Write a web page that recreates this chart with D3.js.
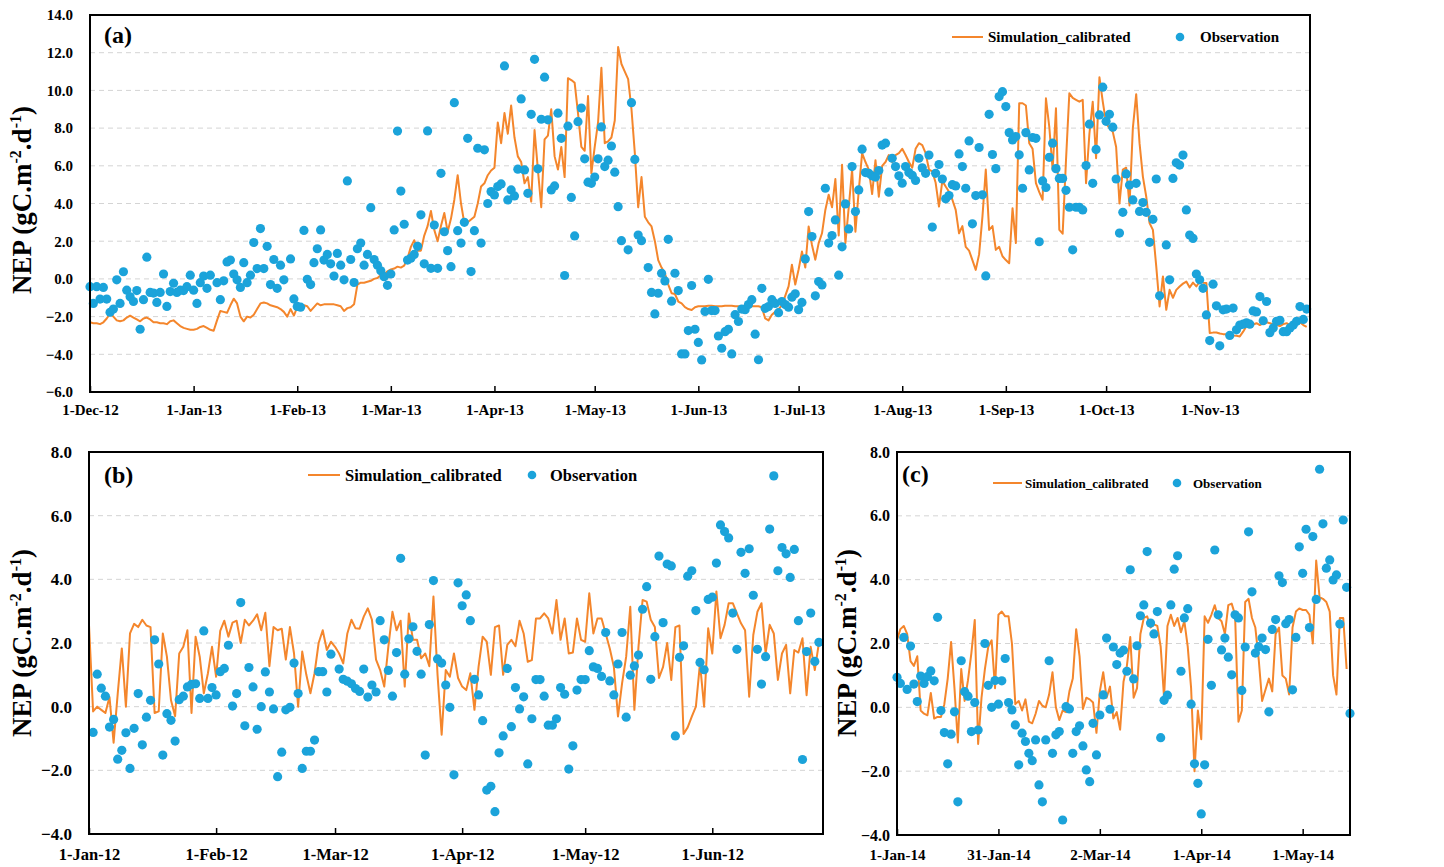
<!DOCTYPE html>
<html><head><meta charset="utf-8">
<script src="https://cdn.jsdelivr.net/npm/d3@7"></script>
<style>
body{margin:0;background:#fff}
text{font-family:"Liberation Serif","Times New Roman",serif;font-weight:bold;fill:#000}
</style>
</head><body>
<svg id="chart" width="1444" height="867"></svg>
<script>
// ---------- Panel (a): daily values from 1-Dec-2012 ----------
const simA = [
-2.3,-2.35,-2.35,-2.4,-2.3,-2.1,-1.85,-2.0,-2.2,-2.25,-2.2,-2.05,-1.95,-2.05,-2.15,-2.25,-2.1,-2.05,-2.15,-2.3,-2.3,-2.35,-2.35,-2.4,-2.25,-2.2,-2.35,-2.5,-2.6,-2.65,-2.7,
-2.7,-2.65,-2.55,-2.5,-2.6,-2.7,-2.75,-2.2,-1.7,-1.75,-1.8,-1.4,-1.05,-1.3,-2.0,-2.25,-2.0,-2.05,-1.9,-1.6,-1.3,-1.25,-1.3,-1.4,-1.45,-1.5,-1.6,-1.75,-2.0,-1.6,-1.95,
-1.5,-1.4,-1.4,-1.45,-1.7,-1.5,-1.3,-1.4,-1.35,-1.35,-1.35,-1.35,-1.4,-1.45,-1.7,-1.55,-1.5,-1.35,-0.3,-0.2,-0.2,-0.15,-0.1,0.0,0.05,0.2,0.25,0.4,
0.5,0.55,0.65,0.6,0.7,1.1,1.7,2.05,1.5,1.5,2.3,2.8,3.6,2.6,2.0,2.8,3.5,2.5,3.2,4.2,5.5,4.0,2.95,3.0,3.15,3.3,4.0,4.9,5.07,5.5,5.75,
5.9,8.3,7.2,8.8,7.7,9.2,7.5,6.5,6.2,5.07,5.4,4.1,7.9,5.8,3.8,7.4,7.6,9.0,6.5,5.8,7.0,5.4,10.65,10.55,10.4,8.8,7.0,6.8,9.7,5.6,
7.0,8.3,11.2,7.2,7.3,7.5,8.4,12.3,11.4,11.0,10.6,9.0,6.67,3.8,5.4,3.3,3.0,2.78,2.0,1.0,0.6,0.3,-0.3,-0.76,-0.8,-1.2,-1.3,-1.5,-1.6,-1.65,-1.5,
-1.45,-1.45,-1.45,-1.42,-1.42,-1.45,-1.45,-1.45,-1.42,-1.42,-1.42,-1.45,-1.45,-1.45,-1.42,-1.42,-1.45,-1.45,-1.45,-1.5,-2.1,-2.2,-1.9,-1.75,-1.6,-1.4,-0.9,-0.4,0.75,-0.3,
0.5,1.45,0.6,2.78,1.8,1.02,1.9,2.42,3.66,4.46,3.8,5.3,2.3,6.05,1.9,3.8,5.8,2.5,4.7,6.67,6.2,5.8,4.5,6.3,4.36,6.0,6.2,6.57,6.2,6.57,6.67,
6.9,6.57,6.2,5.9,6.9,7.2,7.1,6.67,5.8,5.7,5.1,3.84,5.2,4.9,4.62,4.2,3.66,2.42,2.8,1.7,1.5,1.0,0.48,1.3,3.3,5.8,2.6,2.8,1.54,1.7,1.2,
1.0,0.83,3.75,1.9,9.32,9.32,9.2,7.2,6.9,5.08,4.6,4.2,9.58,8.07,5.8,9.05,2.6,2.4,6.3,9.85,9.6,9.5,9.4,9.5,5.08,7.7,9.4,6.4,10.7,9.4,
8.26,8.0,7.8,7.0,4.0,5.8,5.9,3.9,8.0,9.8,7.2,5.43,4.37,2.96,2.6,0.66,-1.46,0.13,-1.64,-0.58,-1.0,-0.58,-0.4,-0.25,-0.14,-0.45,-0.2,-0.4,-0.14,-0.2,-0.22,
-2.87,-2.85,-2.84,-2.9,-2.93,-2.93,-2.95,-3.0,-3.02,-3.05,-2.8,-2.5,-2.45,-2.42,-2.35,-2.45,-2.35,-2.3,-2.35,-2.4,-2.45,-2.5,-2.4,-2.35,-2.45,-2.5,-2.35,-2.3,-2.45,-2.55
];
const obsA = [
-0.41,-1.3,-0.41,-1.07,-0.45,-1.07,-1.77,-1.6,-0.05,-1.3,0.38,-0.6,-0.95,-1.2,-0.62,-2.67,-1.1,1.15,-0.72,-0.75,-1.25,-0.72,0.26,-1.46,-0.67,-0.23,-0.72,-0.6,-0.62,-0.41,0.2,
-0.6,-1.3,-0.2,0.15,-0.5,0.2,null,-0.2,-1.1,-0.1,0.9,1.0,0.26,-0.05,-0.45,0.86,-0.2,0.2,1.93,0.55,2.67,0.55,1.73,-0.3,1.03,-0.5,0.73,-0.05,null,1.06,-1.06,
-1.46,-1.5,2.57,-0.02,-0.3,0.86,1.6,2.6,1.0,1.3,0.8,0.15,1.35,0.73,-0.05,5.2,1.03,-0.19,1.6,1.9,0.73,1.3,3.78,1.03,0.73,0.43,0.12,-0.34,
0.26,2.6,7.84,4.66,2.9,1.0,1.1,1.3,1.73,3.4,0.8,7.85,0.56,2.86,0.56,5.6,2.5,1.5,0.65,9.35,2.56,1.9,3.0,7.46,0.39,2.56,6.93,1.9,6.85,4.0,4.63,
4.45,4.9,5.04,11.3,4.19,4.72,4.4,5.82,9.55,5.78,4.54,8.73,11.65,5.84,8.47,10.7,8.44,4.72,4.93,8.79,7.46,0.18,8.1,4.32,2.28,8.34,9.06,6.37,5.13,5.07,
5.4,6.37,8.06,5.96,6.3,7.05,5.66,3.83,2.03,null,1.54,9.35,6.34,2.33,2.03,null,0.6,-0.72,-1.86,-0.76,0.3,-0.11,2.1,-1.18,0.3,-0.62,-3.98,-3.98,-2.74,-0.35,-2.67,
-3.37,-4.3,-1.73,-0.02,-1.68,-1.68,-3.03,-3.68,-2.8,-2.67,-3.98,-1.9,-2.26,-1.6,-1.63,-1.36,-1.1,-2.93,-4.29,-0.5,-1.56,-1.47,-1.1,-1.3,-1.79,-1.2,-1.36,-1.5,-0.97,-0.79,
-1.63,-1.25,1.06,3.57,2.25,-0.9,-0.14,-0.32,4.81,1.9,2.3,3.13,0.2,1.7,3.98,2.65,5.96,3.57,4.72,6.88,5.64,5.6,5.47,5.4,5.75,7.1,7.2,4.6,6.4,5.96,5.47,
5.08,5.96,5.64,5.5,5.22,6.4,5.89,5.6,6.57,2.75,5.6,6.07,5.3,4.25,4.42,5.0,4.93,6.63,5.96,4.81,7.32,2.92,4.42,6.97,4.46,0.16,8.73,6.6,5.85,9.67,9.93,
9.14,7.76,7.37,7.55,6.58,4.81,7.76,5.78,7.5,7.46,1.97,5.2,4.85,6.45,7.2,5.85,5.33,5.33,4.7,3.8,1.54,3.8,3.8,3.66,6.01,8.21,5.07,6.87,8.7,10.17,
8.36,8.73,8.05,5.3,2.43,3.53,5.57,4.98,4.19,5.07,3.58,4.05,3.53,1.94,3.16,5.3,-0.9,null,1.8,-0.05,5.33,6.16,6.04,6.57,3.66,2.33,2.15,0.26,-0.05,-0.5,-1.91,
-3.27,-0.28,-1.43,-3.55,-1.64,-1.6,-3.0,-1.55,-2.7,-2.45,-2.4,-2.33,-2.4,-1.7,-1.75,-0.94,-2.22,-1.2,-2.85,-2.6,-2.25,-2.2,-2.8,-2.8,-2.6,-2.45,-2.25,-1.47,-2.15,-1.6
];
const ticksA = ["2012-12-01","2013-01-01","2013-02-01","2013-03-01","2013-04-01","2013-05-01","2013-06-01","2013-07-01","2013-08-01","2013-09-01","2013-10-01","2013-11-01"];
const yTicksA = [-6,-4,-2,0,2,4,6,8,10,12,14];

// ---------- Panel (b): daily values from 1-Jan-2012 ----------
const simB = [
2.57,-0.15,0.0,-0.1,-0.2,0.3,-1.13,0.4,1.83,0.0,2.3,2.6,2.5,2.73,2.55,2.5,-0.2,-0.15,2.3,1.57,
0.2,-0.3,1.67,1.88,2.4,-0.2,2.2,1.57,0.42,1.05,1.88,0.94,2.38,2.7,2.2,2.64,2.7,2.0,2.73,2.55,
2.7,2.9,2.4,2.95,1.27,2.5,2.4,2.45,1.48,2.5,1.67,0.0,1.73,1.0,0.42,1.05,2.0,2.4,1.78,2.04,
1.88,1.67,1.36,2.3,2.73,2.46,2.45,2.83,3.09,2.73,1.48,1.15,0.63,1.88,2.98,2.4,2.7,0.63,2.93,2.1,
2.1,1.52,1.67,1.27,3.46,1.0,-0.88,1.15,0.94,1.67,0.9,0.63,0.52,1.05,-0.1,1.25,2.2,2.04,1.0,2.5,
2.55,1.0,1.94,2.1,1.9,2.7,2.3,1.41,1.46,2.77,2.77,2.93,2.77,2.3,3.35,2.1,2.77,1.67,1.7,2.77,
2.1,2.04,3.56,2.3,2.77,2.77,2.3,1.83,1.25,-0.31,0.73,1.57,3.14,-0.1,1.88,3.35,3.3,2.73,2.5,0.9,
1.25,2.0,0.84,2.5,2.55,-0.86,-0.65,-0.31,0.0,1.36,0.0,2.46,1.67,3.62,2.15,2.57,3.25,3.25,2.93,2.62,
2.4,0.31,2.25,2.98,3.25,1.67,2.57,2.3,0.84,1.67,1.94,0.42,1.78,1.7,2.15,0.36,1.88,1.15,2.0
];
const obsB = [
null,-0.81,1.02,0.58,0.33,-0.64,-0.4,-1.65,-1.37,-0.82,-1.94,-0.68,0.41,-1.2,-0.33,0.2,2.1,1.34,-1.52,-0.22,
-0.43,-1.08,0.22,0.33,0.62,0.7,0.72,0.26,2.38,0.26,0.6,0.37,1.1,1.2,1.93,0.02,0.41,3.27,-0.6,1.23,
0.62,-0.71,0.0,1.09,0.46,-0.07,-2.2,-1.43,-0.1,-0.02,1.37,0.41,-1.94,-1.4,-1.4,-1.05,1.1,1.1,0.46,1.65,
null,1.18,0.86,0.8,0.72,0.57,0.48,1.18,0.3,0.68,0.46,2.7,2.1,1.14,0.33,1.7,4.66,1.02,2.13,2.51,
1.74,1.02,-1.52,2.58,3.96,1.5,1.37,0.68,-0.02,-2.14,3.89,3.17,3.51,2.7,0.86,0.37,-0.44,-2.62,-2.5,-3.3,
-1.45,-0.92,1.2,-0.63,0.6,-0.07,0.31,-1.8,-0.38,0.85,0.85,0.33,-0.58,-0.58,-0.38,0.6,0.39,-1.96,-1.23,0.52,
0.85,0.85,1.76,1.25,1.2,0.95,2.33,0.81,0.37,1.34,2.33,-0.33,0.99,1.28,1.62,3.06,3.77,0.86,2.2,4.73,
2.64,4.48,4.42,-0.92,1.55,1.91,4.1,4.27,3.02,1.39,1.16,3.37,3.44,4.51,5.71,5.5,5.3,2.94,1.8,4.85,
4.19,4.96,3.5,1.8,0.71,1.57,5.58,7.25,4.27,5.0,4.8,4.06,4.94,2.7,-1.66,1.73,2.94,1.42,2.02
];
const ticksB = ["2012-01-01","2012-02-01","2012-03-01","2012-04-01","2012-05-01","2012-06-01"];
const yTicksB = [-4,-2,0,2,4,6,8];

// ---------- Panel (c): daily values from 1-Jan-2014 ----------
const simC = [
2.11,2.45,2.55,2.3,1.45,1.3,1.6,-0.1,-0.2,-0.25,0.45,-0.35,-0.3,-0.3,0.1,0.9,2.05,0.6,-1.1,1.2,
0.2,0.85,1.7,2.74,-1.15,0.3,1.2,1.9,2.1,0.6,2.9,3.0,2.85,2.85,2.0,0.1,0.2,-0.1,0.25,-0.45,
-0.5,-0.2,0.2,0.05,0.0,0.4,1.1,0.0,-0.4,-0.1,-0.15,0.5,0.9,2.45,1.6,-0.05,0.3,0.25,0.15,-0.8,
0.5,1.1,0.3,0.65,-0.35,-0.15,-0.7,0.8,1.3,2.2,0.3,0.6,2.3,2.8,2.85,2.5,2.6,2.55,1.9,0.3,
2.55,2.9,2.55,2.8,2.35,2.7,1.9,0.6,-2.0,-0.1,-1.0,2.85,2.65,2.9,3.2,2.8,2.7,2.3,3.2,3.25,
2.9,-0.45,-0.1,3.3,3.4,2.8,2.5,1.5,0.2,0.55,0.9,0.5,2.3,2.5,1.0,0.9,0.4,2.5,3.0,3.1,
3.05,3.05,2.9,2.0,4.6,3.45,3.4,3.3,3.0,1.0,0.4,2.8,2.8,1.2
];
const obsC = [
0.94,0.75,2.19,0.56,1.92,0.73,0.18,0.98,0.75,0.96,1.14,0.83,2.82,-0.1,-0.79,-1.77,-0.84,-0.14,-2.96,1.46,
0.49,0.35,-0.76,0.15,-0.71,null,2.0,0.69,0.0,0.84,0.1,0.83,1.53,0.15,-0.08,-0.55,-1.8,-0.81,-1.07,-1.44,
-1.67,-1.02,-2.43,-2.96,-1.02,1.46,-1.44,-0.86,-0.76,-3.53,0.02,-0.05,-1.44,-0.76,-0.58,-1.21,-1.96,-2.33,-0.5,-1.49,
-0.24,0.39,2.17,-0.06,1.89,1.34,1.7,1.79,1.13,4.31,0.89,1.93,2.87,3.21,4.88,2.64,2.3,3.0,-0.95,0.22,
0.38,3.21,4.33,4.75,1.13,2.8,3.09,0.1,-1.77,-2.38,-3.34,-1.8,2.13,0.69,4.93,2.9,1.8,2.17,1.57,1.02,
2.9,2.8,0.53,1.89,5.5,3.62,1.7,1.9,2.17,1.81,-0.14,2.44,2.75,4.12,3.91,2.62,2.75,0.55,2.19,5.03,
4.2,5.58,2.5,5.35,3.38,7.46,5.75,4.36,4.62,3.99,4.15,2.61,5.87,3.76,-0.19
];
const ticksC = ["2014-01-01","2014-01-31","2014-03-02","2014-04-01","2014-05-01"];
const yTicksC = [-4,-2,0,2,4,6,8];

const seriesNames = ["Simulation_calibrated", "Observation"];

// ---------- drawing ----------
const ORANGE = "#F4862C", BLUE = "#1BA3DA";
const svg = d3.select("#chart");
const parse = d3.utcParse("%Y-%m-%d");
const fmtDate = d3.utcFormat("%-d-%b-%y");

const panels = [
  {sim:simA, obs:obsA, start:"2012-12-01", end:"2013-12-01", xt:ticksA, yt:yTicksA,
   box:{l:90,r:1310,t:15,b:392}, fsY:15, fsX:15, yPad:17, xPad:12, r:4.6,
   label:"(a)", labelAt:[104,43], labelFs:24,
   title:{x:31,y:200},
   leg:{x1:952,x2:983,y:37,tx:988,dx:1180,ox:1200,fs:15}},
  {sim:simB, obs:obsB, start:"2012-01-01", end:"2012-06-28", xt:ticksB, yt:yTicksB,
   box:{l:89,r:823,t:452,b:834}, fsY:17, fsX:16.5, yPad:17, xPad:14, r:4.6,
   label:"(b)", labelAt:[104,483], labelFs:24,
   title:{x:31,y:643},
   leg:{x1:308,x2:340,y:475,tx:345,dx:532,ox:550,fs:16.5}},
  {sim:simC, obs:obsC, start:"2014-01-01", end:"2014-05-15", xt:ticksC, yt:yTicksC,
   box:{l:897,r:1350,t:452,b:835}, fsY:16, fsX:15, yPad:7, xPad:14, r:4.6,
   label:"(c)", labelAt:[902,482], labelFs:24,
   title:{x:856,y:643},
   leg:{x1:993,x2:1022,y:483,tx:1025,dx:1177,ox:1193,fs:13}}
];

panels.forEach(p => {
  const B = p.box;
  const s0 = parse(p.start);
  const x = d3.scaleUtc().domain([s0, parse(p.end)]).range([B.l, B.r]);
  const y = d3.scaleLinear().domain([d3.min(p.yt), d3.max(p.yt)]).range([B.b, B.t]);
  const g = svg.append("g");

  // gridlines
  g.append("g").selectAll("line")
    .data(p.yt.filter(v => v > d3.min(p.yt) && v < d3.max(p.yt)))
    .join("line")
    .attr("x1", B.l).attr("x2", B.r)
    .attr("y1", d => y(d)).attr("y2", d => y(d))
    .attr("stroke", "#d4d4d4").attr("stroke-width", 1).attr("stroke-dasharray", "5,4");

  // simulation line
  const simData = p.sim.map((v, i) => ({d: d3.utcDay.offset(s0, i), v}));
  g.append("path").datum(simData)
    .attr("fill", "none").attr("stroke", ORANGE).attr("stroke-width", 2)
    .attr("stroke-linejoin", "round")
    .attr("d", d3.line().x(d => x(d.d)).y(d => y(d.v)));

  // observations
  const obsData = p.obs.map((v, i) => ({d: d3.utcDay.offset(s0, i), v})).filter(d => d.v !== null);
  g.append("g").selectAll("circle").data(obsData).join("circle")
    .attr("cx", d => x(d.d)).attr("cy", d => y(d.v)).attr("r", p.r)
    .attr("fill", BLUE);

  // frame
  g.append("rect").attr("x", B.l).attr("y", B.t)
    .attr("width", B.r - B.l).attr("height", B.b - B.t)
    .attr("fill", "none").attr("stroke", "#000").attr("stroke-width", 2);

  // x axis
  const xa = d3.axisBottom(x).tickValues(p.xt.map(parse)).tickFormat(fmtDate)
    .tickSize(-6).tickSizeOuter(0).tickPadding(p.xPad);
  const gx = g.append("g").attr("transform", `translate(0,${B.b})`).call(xa);
  gx.select(".domain").remove();
  gx.selectAll(".tick line").attr("stroke", "#000").attr("stroke-width", 1.5);
  gx.selectAll("text").style("font-size", p.fsX + "px")
    .style("font-family", '"Liberation Serif","Times New Roman",serif').style("font-weight", "bold");

  // y axis
  const ya = d3.axisLeft(y).tickValues(p.yt).tickFormat(d3.format(".1f"))
    .tickSize(0).tickPadding(p.yPad);
  const gy = g.append("g").attr("transform", `translate(${B.l},0)`).call(ya);
  gy.select(".domain").remove();
  gy.selectAll("text").style("font-size", p.fsY + "px")
    .style("font-family", '"Liberation Serif","Times New Roman",serif').style("font-weight", "bold");

  // y title
  const t = g.append("text").attr("transform", `translate(${p.title.x},${p.title.y}) rotate(-90)`)
    .attr("text-anchor", "middle").style("font-size", "27px");
  t.append("tspan").text("NEP (gC.m");
  t.append("tspan").attr("dy", -10).style("font-size", "16px").text("-2");
  t.append("tspan").attr("dy", 10).text(".d");
  t.append("tspan").attr("dy", -10).style("font-size", "16px").text("-1");
  t.append("tspan").attr("dy", 10).text(")");

  // panel label
  g.append("text").attr("x", p.labelAt[0]).attr("y", p.labelAt[1])
    .style("font-size", p.labelFs + "px").text(p.label);

  // legend
  const L = p.leg;
  g.append("line").attr("x1", L.x1).attr("x2", L.x2).attr("y1", L.y).attr("y2", L.y)
    .attr("stroke", ORANGE).attr("stroke-width", 2);
  g.append("text").attr("x", L.tx).attr("y", L.y).attr("dy", "0.35em")
    .style("font-size", L.fs + "px").text(seriesNames[0]);
  g.append("circle").attr("cx", L.dx).attr("cy", L.y).attr("r", 4.3).attr("fill", BLUE);
  g.append("text").attr("x", L.ox).attr("y", L.y).attr("dy", "0.35em")
    .style("font-size", L.fs + "px").text(seriesNames[1]);
});
</script>
</body></html>
